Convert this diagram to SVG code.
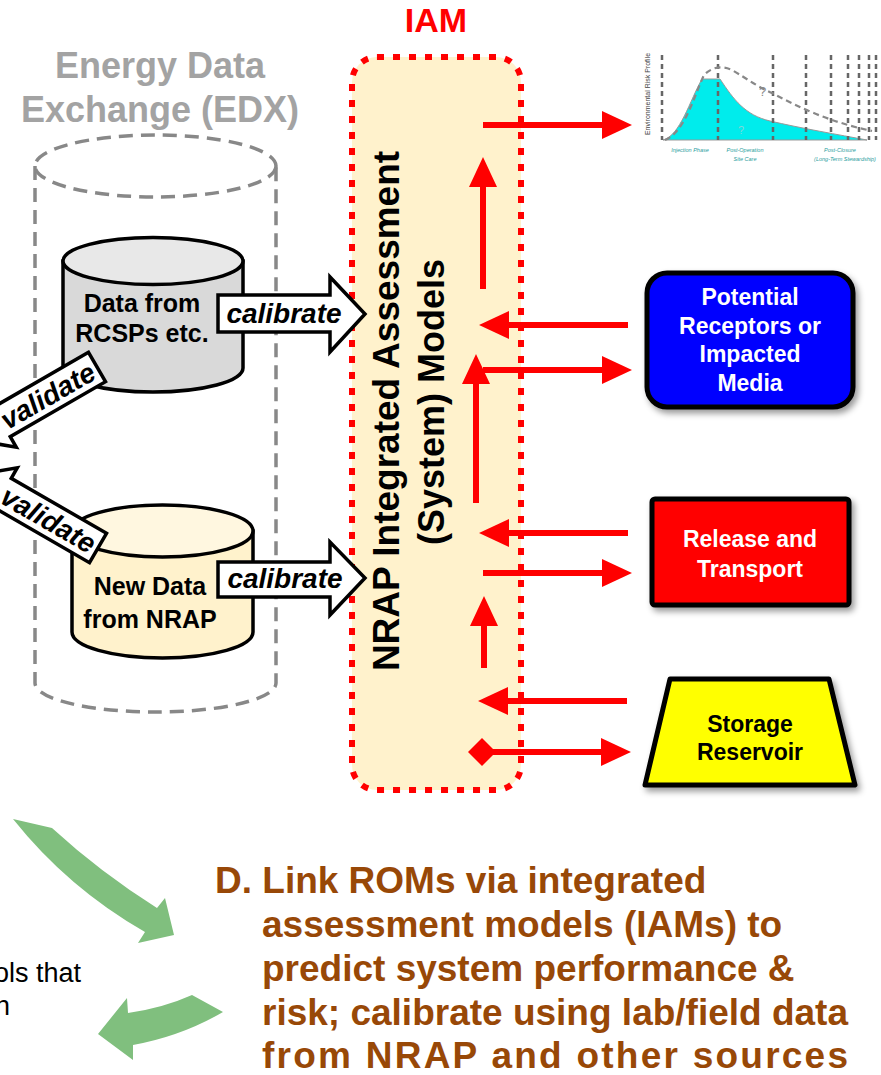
<svg xmlns="http://www.w3.org/2000/svg" width="881" height="1075" viewBox="0 0 881 1075">
<defs>
<style>
.b{font-family:"Liberation Sans",Arial,sans-serif;font-weight:bold}
.bi{font-family:"Liberation Sans",Arial,sans-serif;font-weight:bold;font-style:italic;font-size:28px}
.cyl{stroke:#000;stroke-width:3.5}
.red{stroke:#ff0000;stroke-width:6;fill:none}
.blk{fill:#fff;stroke:#000;stroke-width:3.5;stroke-linejoin:miter}
.grn{fill:#80bf7e}
.vd{stroke:#666;stroke-width:2.5;stroke-dasharray:5 4}
.cl{font-family:"Liberation Sans",Arial,sans-serif;font-style:italic;font-size:5.5px;fill:#2a9d9d}
</style>
<marker id="ah" viewBox="0 0 30 28" refX="8" refY="14" markerWidth="30" markerHeight="28" markerUnits="userSpaceOnUse" orient="auto"><path d="M0,0 L30,14 L0,28 Z" fill="#ff0000"/></marker>
<marker id="dm" viewBox="0 0 28 28" refX="14" refY="14" markerWidth="28" markerHeight="28" markerUnits="userSpaceOnUse" orient="auto"><path d="M0,14 L14,0 L28,14 L14,28 Z" fill="#ff0000"/></marker>
<filter id="sh" x="-10%" y="-10%" width="125%" height="130%"><feDropShadow dx="3" dy="4" stdDeviation="3" flood-color="#000" flood-opacity="0.4"/></filter>
</defs>
<rect width="881" height="1075" fill="#fff"/>

<g id="edx">
<text class="b" x="160" y="78" font-size="36" fill="#a3a3a3" text-anchor="middle">Energy Data</text>
<text class="b" x="160" y="122" font-size="36" fill="#a3a3a3" text-anchor="middle">Exchange (EDX)</text>
<path d="M35,166 L35,683 A120.5,29 0 0 0 276,683 L276,166" fill="none" stroke="#888" stroke-width="3.5" stroke-dasharray="14 8"/>
<ellipse cx="155.5" cy="166" rx="120.5" ry="31" fill="none" stroke="#888" stroke-width="3.5" stroke-dasharray="14 8"/>
</g>

<g id="rcsp">
<path class="cyl" d="M63,261 L63,368 A90,24 0 0 0 243,368 L243,261 Z" fill="#d9d9d9"/>
<ellipse class="cyl" cx="153" cy="261" rx="90" ry="23.5" fill="#e8e8e8"/>
<text class="b" x="142" y="312" font-size="25" text-anchor="middle">Data from</text>
<text class="b" x="142" y="342" font-size="25" text-anchor="middle">RCSPs etc.</text>
</g>

<g id="nrapdata">
<path class="cyl" d="M72,531 L72,632 A90.5,26 0 0 0 253,632 L253,531 Z" fill="#fff2cc"/>
<ellipse class="cyl" cx="162.5" cy="531" rx="90.5" ry="26" fill="#fff7e0"/>
<text class="b" x="150" y="595" font-size="25" text-anchor="middle">New Data</text>
<text class="b" x="150" y="628" font-size="25" text-anchor="middle">from NRAP</text>
</g>

<g id="iam">
<text class="b" x="436" y="32" font-size="34" fill="#ff0000" text-anchor="middle">IAM</text>
<rect x="352" y="57" width="169" height="733" rx="25" fill="#fff2cc" stroke="#ff0000" stroke-width="6" stroke-dasharray="7 9"/>
<text class="b" font-size="37" text-anchor="middle" transform="translate(399,411) rotate(-90)">NRAP Integrated Assessment</text>
<text class="b" font-size="36" text-anchor="middle" transform="translate(444,402) rotate(-90)">(System) Models</text>
</g>

<g id="chart">
<text font-family="Liberation Sans,Arial,sans-serif" font-size="7" fill="#444" text-anchor="middle" transform="translate(650,94) rotate(-90)">Environmental Risk Profile</text>
<path d="M663,140 C680,136 690,100 702,79 L720,79 C734,100 745,115 770,121 C800,128 840,135 867,140 Z" fill="#00ecec" stroke="#999" stroke-width="1"/>
<g>
<line class="vd" x1="662" y1="55" x2="662" y2="140"/>
<line class="vd" x1="718" y1="55" x2="718" y2="140"/>
<line class="vd" x1="773" y1="55" x2="773" y2="140"/>
<line class="vd" x1="806" y1="55" x2="806" y2="140"/>
<line class="vd" x1="831" y1="55" x2="831" y2="140"/>
<line class="vd" x1="848" y1="55" x2="848" y2="140"/>
<line class="vd" x1="859" y1="55" x2="859" y2="140"/>
<line class="vd" x1="869" y1="55" x2="869" y2="140"/>
<line class="vd" x1="876" y1="55" x2="876" y2="140"/>
</g>
<path d="M665,140 C685,132 694,96 704,75 C712,67 722,65 732,70 C746,78 756,86 772,93 C800,108 830,122 872,131" fill="none" stroke="#888" stroke-width="2.2" stroke-dasharray="6 4"/>
<text font-family="Liberation Sans,Arial,sans-serif" font-size="13" fill="#888" x="759" y="96">?</text>
<text font-family="Liberation Sans,Arial,sans-serif" font-size="11" fill="#7fd8d8" x="738" y="134">?</text>
<text class="cl" x="690" y="152" text-anchor="middle">Injection Phase</text>
<text class="cl" x="745" y="152" text-anchor="middle">Post-Operation</text>
<text class="cl" x="745" y="161" text-anchor="middle">Site Care</text>
<text class="cl" x="840" y="152" text-anchor="middle">Post-Closure</text>
<text class="cl" x="845" y="161" text-anchor="middle">(Long-Term Stewardship)</text>
</g>

<g id="receptors">
<rect x="647" y="273" width="206" height="134" rx="20" fill="#0000ff" stroke="#000" stroke-width="5" filter="url(#sh)"/>
<g class="b" font-size="23" fill="#fff" text-anchor="middle">
<text x="750" y="305">Potential</text>
<text x="750" y="334">Receptors or</text>
<text x="750" y="362">Impacted</text>
<text x="750" y="391">Media</text>
</g>
</g>

<g id="release">
<rect x="652" y="499" width="197" height="106" rx="3" fill="#ff0000" stroke="#000" stroke-width="5" filter="url(#sh)"/>
<g class="b" font-size="23" fill="#fff" text-anchor="middle">
<text x="750" y="547">Release and</text>
<text x="750" y="577">Transport</text>
</g>
</g>

<g id="storage">
<polygon points="670,679 829,679 855,785 645,785" fill="#ffff00" stroke="#000" stroke-width="5" stroke-linejoin="round" filter="url(#sh)"/>
<g class="b" font-size="23" fill="#000" text-anchor="middle">
<text x="750" y="732">Storage</text>
<text x="750" y="760">Reservoir</text>
</g>
</g>

<g id="connectors">
<g id="calibrate1">
<polygon class="blk" points="218,295 330,295 330,277 365,314 330,352 330,332 218,332"/>
<text class="bi" x="284" y="323" text-anchor="middle">calibrate</text>
</g>
<g id="calibrate2">
<polygon class="blk" points="218,562 330,562 330,542 365,578 330,615 330,597 218,597"/>
<text class="bi" x="285" y="588" text-anchor="middle">calibrate</text>
</g>
<g id="validate1" transform="translate(97,367) rotate(-30)">
<polygon class="blk" points="0,-17 -110,-17 -110,-29 -145,0 -110,29 -110,17 0,17"/>
<text class="bi" x="-57" y="10" text-anchor="middle">validate</text>
</g>
<g id="validate2" transform="translate(98,548) rotate(30)">
<polygon class="blk" points="0,-17 -110,-17 -110,-29 -145,0 -110,29 -110,17 0,17"/>
<text class="bi" x="-57" y="10" text-anchor="middle">validate</text>
</g>
<line class="red" x1="483" y1="125" x2="610" y2="125" marker-end="url(#ah)"/>
<line class="red" x1="483" y1="289" x2="483" y2="179" marker-end="url(#ah)"/>
<line class="red" x1="628" y1="325" x2="501" y2="325" marker-end="url(#ah)"/>
<line class="red" x1="483" y1="370" x2="610" y2="370" marker-end="url(#ah)"/>
<line class="red" x1="476" y1="503" x2="476" y2="376" marker-end="url(#ah)"/>
<line class="red" x1="628" y1="533" x2="501" y2="533" marker-end="url(#ah)"/>
<line class="red" x1="483" y1="573" x2="610" y2="573" marker-end="url(#ah)"/>
<line class="red" x1="484" y1="668" x2="484" y2="618" marker-end="url(#ah)"/>
<line class="red" x1="627" y1="701" x2="500" y2="701" marker-end="url(#ah)"/>
<line class="red" x1="482" y1="752" x2="609" y2="752" marker-start="url(#dm)" marker-end="url(#ah)"/>
<path class="grn" d="M13,819 L52,828 Q100,872 157,908 L165,898 L174,935 L138,943 L145,932 Q68,888 13,819 Z"/>
<path class="grn" d="M192,995 L223,1012 Q182,1036 133,1045 L133,1060 L98,1034 L127,998 L128,1013 Q163,1008 192,995 Z"/>
</g>

<g id="texts">
<text font-family="Liberation Sans,Arial,sans-serif" font-size="27" x="-6" y="982">ols that</text>
<text font-family="Liberation Sans,Arial,sans-serif" font-size="27" x="-5" y="1015">n</text>
<g class="b" font-size="37" fill="#984807">
<text x="215" y="893">D. Link ROMs via integrated</text>
<text x="262" y="937">assessment models (IAMs) to</text>
<text x="262" y="981">predict system performance &amp;</text>
<text x="262" y="1025">risk; calibrate using lab/field data</text>
<text x="262" y="1068" textLength="586" lengthAdjust="spacing">from NRAP and other sources</text>
</g>
</g>
</svg>
